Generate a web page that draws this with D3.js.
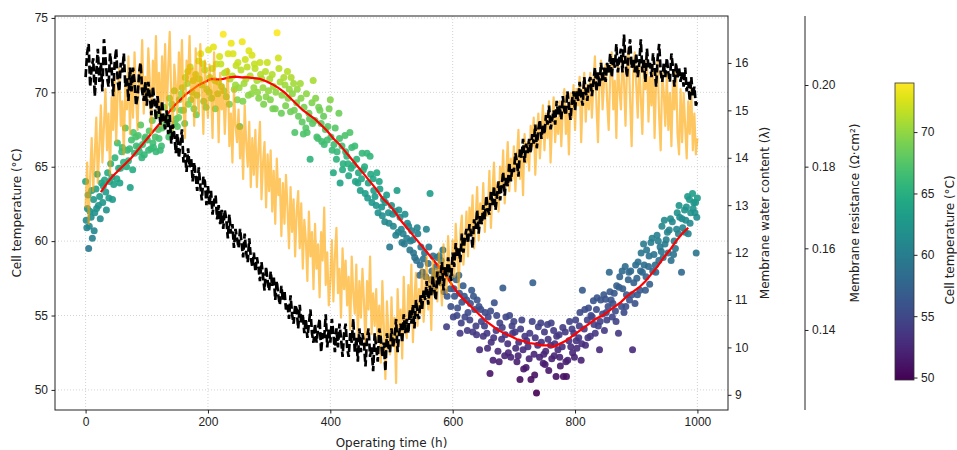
<!DOCTYPE html>
<html><head><meta charset="utf-8">
<script src="https://cdn.jsdelivr.net/npm/d3@7"></script>
<style>
body{margin:0;background:#fff;}
svg{display:block;font-family:"DejaVu Sans",sans-serif;}
.tick text{font-size:12px;fill:#222;}
.tick line{stroke:#222;}
</style></head>
<body>
<svg id="chart" width="957" height="450"></svg>
<script>
// ---- DATA ----
// Membrane water content (lambda), sampled every 2.5 h from 0 to 1000 h
const waterContent = [
15.7,16.2,16.4,15.5,15.9,16.1,15.3,15.8,16.3,15.6,
16.0,15.4,16.5,16.1,15.7,15.5,16.2,15.9,15.3,16.0,
16.3,15.6,15.4,16.0,15.8,16.2,15.5,15.7,15.2,15.9,
15.4,15.9,15.6,15.1,15.3,15.8,16.0,15.4,15.2,15.6,
15.1,15.6,15.3,14.9,15.5,15.2,14.8,15.3,15.0,14.7,
15.2,14.8,14.6,15.0,14.5,14.9,14.3,14.7,14.5,14.1,
14.5,14.0,14.3,14.6,13.9,14.1,13.7,14.2,13.8,14.0,
13.5,13.9,13.6,13.3,13.8,13.4,13.1,13.6,13.5,13.0,
13.4,13.0,13.3,12.8,13.1,13.2,12.7,13.0,12.6,12.9,
12.5,12.9,12.7,12.3,12.8,12.4,12.6,12.1,12.5,12.3,
12.1,12.5,12.2,11.9,12.4,12.0,11.8,12.3,11.9,11.7,
12.0,11.6,11.9,11.7,11.4,11.8,11.5,11.2,11.7,11.4,
11.2,11.6,11.3,11.5,11.0,11.4,11.1,10.9,11.3,11.0,
11.2,10.8,10.9,10.6,11.1,10.7,10.5,10.9,10.8,10.4,
10.9,10.5,10.7,10.3,10.6,10.2,10.5,10.8,10.3,10.1,
10.5,10.1,10.4,10.6,9.9,10.3,10.2,10.7,10.0,10.4,
10.1,10.6,10.3,9.9,10.4,10.0,10.5,10.2,9.8,10.3,
10.5,10.0,9.8,10.3,10.1,10.6,9.9,10.2,9.7,10.4,
9.9,10.3,10.1,9.6,10.2,10.4,9.8,10.0,9.5,10.3,
10.0,9.7,10.4,10.2,9.8,10.1,9.5,10.3,10.0,9.9,
10.4,10.0,10.2,10.6,9.9,10.3,10.5,10.1,10.7,10.3,
10.6,10.3,10.8,10.5,10.9,10.4,11.0,10.7,10.6,11.1,
10.8,11.2,11.0,11.4,10.9,11.3,11.1,11.5,11.2,11.0,
11.6,11.3,11.5,11.8,11.2,11.7,11.5,11.9,11.6,11.4,
12.0,11.7,12.2,11.9,12.1,11.8,12.4,12.0,12.3,12.5,
12.2,12.6,12.4,12.1,12.7,12.5,12.9,12.4,12.8,12.6,
13.0,12.7,13.2,12.9,12.8,13.3,13.0,13.4,12.9,13.2,
13.5,13.1,13.4,13.7,13.2,13.6,13.4,13.9,13.5,13.8,
13.7,14.1,13.9,13.6,14.2,14.0,14.4,13.9,14.3,14.1,
14.4,14.1,14.5,14.3,14.7,14.2,14.6,14.8,14.4,14.7,
14.5,14.9,14.7,15.1,14.6,14.8,15.0,14.7,15.2,14.9,
15.1,14.8,15.3,15.0,14.9,15.4,15.1,14.8,15.2,15.4,
15.0,15.4,15.2,15.6,15.3,15.1,15.7,15.4,15.2,15.6,
15.7,15.3,15.6,15.9,15.4,15.8,15.5,16.0,15.6,15.9,
15.6,16.0,15.8,16.2,15.7,16.1,15.9,16.4,15.8,16.1,
16.3,15.8,16.6,16.0,15.7,16.2,16.5,15.9,16.1,15.8,
16.2,15.7,16.0,16.5,15.8,16.1,15.6,16.3,15.9,16.0,
15.7,16.2,15.9,15.5,16.1,16.4,15.8,15.6,16.0,15.7,
16.1,15.8,15.6,16.2,15.9,15.5,16.0,15.7,15.9,15.6,
15.8,15.5,15.9,15.4,15.6,15.2,15.7,15.3,15.5,15.1,
15.2
];
// Membrane resistance (Ohm cm2), sampled every 2.5 h from 0 to 1000 h
const resistance = [
0.170,0.181,0.166,0.178,0.187,0.174,0.183,0.192,0.176,0.185,
0.195,0.181,0.190,0.199,0.184,0.193,0.178,0.197,0.189,0.202,
0.186,0.199,0.204,0.190,0.196,0.183,0.201,0.194,0.207,0.188,
0.203,0.192,0.208,0.197,0.189,0.205,0.199,0.211,0.193,0.202,
0.195,0.209,0.201,0.188,0.206,0.198,0.212,0.194,0.203,0.190,
0.207,0.196,0.210,0.192,0.204,0.213,0.197,0.189,0.205,0.200,
0.193,0.208,0.199,0.211,0.194,0.187,0.206,0.201,0.212,0.196,
0.204,0.190,0.209,0.198,0.193,0.210,0.200,0.188,0.206,0.197,
0.192,0.205,0.199,0.187,0.208,0.195,0.201,0.186,0.203,0.194,
0.200,0.188,0.197,0.204,0.185,0.193,0.181,0.199,0.190,0.186,
0.194,0.182,0.190,0.177,0.195,0.186,0.180,0.191,0.175,0.187,
0.178,0.189,0.175,0.184,0.191,0.172,0.181,0.186,0.170,0.183,
0.174,0.184,0.169,0.179,0.166,0.182,0.173,0.177,0.163,0.176,
0.166,0.178,0.170,0.160,0.175,0.164,0.172,0.158,0.169,0.174,
0.160,0.171,0.155,0.167,0.162,0.152,0.169,0.158,0.164,0.150,
0.166,0.155,0.161,0.148,0.164,0.157,0.170,0.151,0.159,0.146,
0.152,0.162,0.147,0.158,0.165,0.149,0.155,0.143,0.160,0.150,
0.157,0.146,0.153,0.140,0.158,0.149,0.144,0.156,0.138,0.152,
0.143,0.155,0.147,0.136,0.152,0.145,0.158,0.139,0.149,0.141,
0.150,0.137,0.146,0.132,0.152,0.141,0.128,0.147,0.139,0.134,
0.148,0.136,0.143,0.127,0.150,0.139,0.145,0.133,0.153,0.140,
0.138,0.151,0.143,0.156,0.137,0.148,0.154,0.141,0.150,0.144,
0.155,0.142,0.150,0.158,0.145,0.153,0.140,0.157,0.149,0.155,
0.147,0.159,0.152,0.146,0.161,0.154,0.149,0.163,0.155,0.151,
0.162,0.153,0.166,0.158,0.150,0.164,0.168,0.156,0.161,0.169,
0.158,0.170,0.164,0.173,0.160,0.167,0.175,0.162,0.171,0.166,
0.176,0.164,0.172,0.168,0.179,0.165,0.174,0.181,0.170,0.176,
0.169,0.180,0.175,0.184,0.171,0.178,0.186,0.174,0.182,0.177,
0.185,0.174,0.182,0.189,0.177,0.184,0.173,0.188,0.181,0.186,
0.179,0.190,0.185,0.192,0.178,0.187,0.193,0.182,0.189,0.195,
0.184,0.193,0.187,0.196,0.181,0.191,0.197,0.186,0.192,0.188,
0.196,0.185,0.194,0.199,0.188,0.195,0.183,0.198,0.192,0.200,
0.189,0.199,0.195,0.202,0.186,0.197,0.203,0.191,0.200,0.194,
0.203,0.192,0.200,0.207,0.195,0.186,0.202,0.206,0.194,0.201,
0.205,0.196,0.189,0.203,0.208,0.194,0.201,0.187,0.206,0.199,
0.194,0.207,0.201,0.190,0.205,0.209,0.196,0.185,0.203,0.208,
0.200,0.192,0.206,0.197,0.188,0.204,0.199,0.207,0.191,0.202,
0.195,0.205,0.187,0.201,0.206,0.192,0.184,0.203,0.198,0.190,
0.203,0.189,0.198,0.185,0.201,0.194,0.205,0.188,0.183,0.199,
0.186,0.198,0.190,0.182,0.196,0.188,0.199,0.184,0.193,0.183,
0.187
];
// Cell temperature readings [time h, temperature C]
const cellTempPoints = [
[0,64.0],[1,61.4],[2,60.9],[4,63.1],[5,59.5],[7,62.0],[9,61.6],[11,60.2],[13,62.8],[15,61.9],[17,63.5],[19,64.5],[21,62.4],[23,63.0],[26,63.9],[28,62.6],[31,64.1],[33,63.3],[36,64.6],[38,62.9],[41,65.2],[43,64.3],[46,63.8],[48,65.6],
[52,66.6],[54,64.9],[57,64.9],[59,66.0],[62,65.3],[65,67.6],[68,66.1],[70,65.4],[73,63.6],[75,66.8],[78,67.3],[80,65.9],[83,66.4],[86,67.1],[88,66.0],[90,67.8],[93,66.5],[96,65.8],[98,67.0],
[101,66.8],[104,67.4],[107,66.2],[109,68.1],[111,66.3],[114,67.0],[117,68.5],[120,66.9],[122,66.1],[125,67.6],[128,69.0],[131,67.9],[134,68.4],[137,69.6],[139,67.3],[142,68.9],[145,70.1],[148,68.2],[150,67.7],
[153,69.5],[156,68.8],[158,70.3],[160,68.8],[163,71.0],[166,70.6],[168,69.2],[171,71.7],[174,70.0],[177,68.9],[180,71.2],[182,69.8],[185,72.1],[188,72.6],[190,70.5],[193,69.4],[195,71.5],[198,70.2],
[201,72.85],[203,71.0],[206,69.6],[209,73.05],[211,70.8],[214,71.9],[216,69.9],[219,72.4],[222,70.4],[225,73.9],[227,71.3],[230,69.7],[233,72.6],[236,70.9],[238,73.3],[241,72.6],[243,70.2],[246,71.8],[248,69.5],
[252,67.7],[254,71.5],[256,73.4],[259,70.6],[261,72.2],[264,71.7],[266,69.8],[269,71.1],[272,72.5],[275,70.3],[277,71.6],[280,70.8],[283,69.6],[285,72.0],[288,70.9],[291,69.2],[294,71.4],[297,72.0],[299,70.1],
[302,69.5],[305,71.2],[307,70.4],[310,68.9],[313,74.0],[315,72.3],[318,70.7],[321,69.8],[324,71.0],[327,69.1],[330,71.4],[333,70.2],[335,68.7],[338,69.9],[340,70.6],[342,67.3],[345,69.3],[348,68.4],
[351,70.6],[354,68.0],[357,69.0],[360,67.6],[362,67.3],[365,68.6],[367,65.5],[370,69.3],[372,70.8],[375,68.1],[378,67.0],[381,69.0],[383,68.8],[386,66.7],[389,68.4],[392,67.5],[395,66.8],[398,68.9],[400,69.5],
[403,66.1],[405,64.6],[408,67.6],[411,66.0],[414,68.6],[416,63.9],[419,66.4],[421,65.2],[424,67.1],[427,65.7],[430,64.4],[432,67.3],[435,66.3],[438,65.1],[441,64.0],[443,65.5],[446,64.6],[449,63.4],
[452,65.9],[454,64.8],[457,63.2],[460,65.9],[462,63.9],[465,65.7],[468,62.6],[470,64.2],[473,63.0],[476,64.6],[478,61.9],[481,63.5],[484,62.3],[487,62.8],[489,61.3],[492,63.1],[495,61.9],[497,59.6],[500,62.4],
[503,61.0],[506,62.0],[509,63.4],[511,60.6],[514,61.6],[517,59.9],[519,60.5],[522,61.8],[525,60.2],[528,61.0],[530,59.4],[533,60.7],[535,60.1],[538,58.9],[541,58.7],[543,60.5],[546,57.7],[548,59.6],
[551,57.9],[554,59.2],[557,60.8],[560,58.5],[563,63.2],[565,57.4],[568,59.0],[570,56.9],[573,58.3],[576,57.8],[578,59.0],[581,58.7],[584,59.4],[586,56.6],[589,57.9],[590,54.25],[593,58.1],[596,56.8],[598,57.6],
[601,54.9],[603,56.3],[606,57.4],[608,55.5],[611,56.5],[612,53.8],[615,55.9],[617,57.0],[620,54.9],[623,56.05],[625,55.2],[628,54.7],[631,56.7],[633,53.9],[636,55.4],[638,54.3],[640,56.05],[643,55.6],[644,52.7],[647,54.6],
[650,53.6],[653,55.2],[656,53.8],[658,54.9],[661,51.1],[663,53.2],[666,52.0],[668,55.85],[671,54.0],[674,52.6],[677,54.5],[680,53.4],[682,56.85],[685,52.3],[687,54.9],[690,53.1],[693,55.0],[695,52.2],[698,53.8],
[700,54.6],[703,52.8],[705,51.9],[708,53.2],[710,50.7],[713,54.7],[715,52.7],[718,53.6],[720,51.5],[723,52.9],[726,53.8],[728,50.7],[731,57.2],[733,52.4],[735,53.5],[737,49.8],[740,54.25],[742,52.2],[745,53.2],[748,51.8],
[750,53.9],[752,52.6],[755,54.4],[757,51.3],[760,53.0],[762,52.1],[765,54.0],[767,53.1],[769,50.9],[772,52.7],[774,53.7],[776,51.6],[779,52.9],[781,50.9],[784,53.9],[786,50.9],[788,52.0],[791,54.6],[793,52.9],[796,52.5],[798,53.8],
[801,54.7],[803,52.8],[806,53.5],[808,55.2],[810,52.0],[812,56.7],[815,54.1],[817,53.0],[820,54.7],[822,55.5],[825,53.6],[828,54.9],[830,56.0],[833,53.8],[835,55.4],[838,54.3],[840,52.7],[842,56.05],[845,55.1],[848,54.0],
[850,56.1],[852,54.7],[854,55.6],[856,57.9],[859,56.05],[861,54.9],[864,56.5],[866,55.3],[868,57.0],[871,53.8],[873,57.6],[876,55.6],[878,56.8],[880,55.2],[882,58.3],[884,56.4],[887,57.4],[889,56.05],[891,58.0],[894,52.7],[896,57.2],[898,55.8],
[901,57.5],[903,58.6],[906,56.7],[908,59.2],[910,57.9],[913,58.4],[915,56.7],[917,59.4],[920,58.3],[922,57.1],[924,59.9],[927,58.0],[929,59.1],[932,57.9],[934,60.4],[937,58.7],[939,59.6],[942,61.0],[944,58.9],[947,59.8],
[949,60.1],[952,59.2],[954,60.75],[957,58.7],[959,61.3],[962,60.0],[964,59.5],[967,61.9],[969,60.5],[971,61.6],[974,57.9],[976,60.9],[979,62.1],[981,61.4],[982,62.3],[985,60.5],[987,62.8],[989,61.9],[992,63.2],[994,62.6],[996,61.9],[998,59.2],[1000,62.9],
[3,62.2],[6,61.0],[10,63.4],[14,60.7],[18,62.2],[24,61.5],[29,63.7],[34,62.1],[39,64.0],[44,62.8],
[51,64.2],[56,63.9],[60,66.3],[67,65.0],[72,66.2],[77,64.8],[82,67.0],[87,66.3],[92,65.6],[97,66.9],
[103,66.1],[110,66.6],[115,66.0],[119,67.5],[124,66.4],[130,68.3],[136,67.0],[141,69.2],[146,67.9],
[152,68.3],[157,69.9],[162,67.9],[167,71.4],[172,69.5],[176,70.8],[181,68.5],[186,70.9],[192,71.9],[197,69.0],
[202,70.0],[207,71.6],[212,68.9],[217,70.7],[221,71.9],[226,70.1],[231,71.4],[235,69.2],[240,71.1],[245,70.5],[249,72.0],
[251,70.3],[257,69.4],[262,70.9],[267,72.8],[271,69.9],[276,71.9],[281,70.0],[286,71.2],[290,70.3],[295,69.7],
[301,70.9],[306,68.9],[311,70.0],[316,71.6],[320,68.6],[326,70.5],[331,69.6],[336,71.0],[341,68.8],[346,70.2],
[352,69.6],[356,67.2],[361,69.9],[366,68.2],[371,67.9],[376,69.6],[380,66.9],[385,67.9],[390,66.5],[396,67.7],
[401,67.0],[406,66.5],[410,65.5],[415,66.9],[420,64.8],[425,66.0],[429,65.2],[434,64.9],[440,66.4],[445,63.9],
[451,64.2],[456,65.0],[461,62.9],[466,64.5],[471,63.4],[475,62.4],[480,64.0],[485,61.7],[490,62.6],[496,61.2],
[502,61.8],[507,60.4],[512,62.1],[516,60.8],[521,59.8],[526,61.2],[531,60.0],[536,59.2],[542,60.9],[547,58.4],
[552,58.8],[556,57.6],[561,59.6],[566,58.0],[571,57.7],[575,58.9],[580,57.2],[585,58.0],[591,56.3],[597,55.6],
[602,56.8],[607,55.0],[610,57.7],[614,54.5],[619,56.3],[624,54.0],[629,55.8],[634,56.3],[639,53.7],[646,55.4],
[652,54.3],[657,52.8],[662,55.3],[667,53.5],[672,55.0],[676,51.9],[681,54.2],[686,53.7],[691,52.5],[697,54.3],
[702,53.9],[707,52.3],[711,54.1],[716,51.4],[721,53.3],[725,52.1],[730,54.6],[734,51.0],[739,53.0],[744,54.5],[749,52.4],
[751,51.7],[756,53.4],[761,54.5],[766,52.3],[770,53.6],[775,52.2],[780,54.2],[785,51.9],[790,53.3],[795,54.1],[799,52.2],
[802,53.3],[807,54.3],[811,53.1],[816,55.4],[821,53.5],[826,55.0],[831,54.4],[836,56.2],[841,54.6],[847,56.4],
[851,55.2],[857,56.6],[862,55.8],[867,54.6],[872,56.9],[877,58.0],[883,55.6],[888,57.9],[893,56.4],[899,58.4],
[902,56.4],[907,58.0],[912,59.8],[916,57.6],[921,59.0],[926,60.2],[931,58.4],[936,60.0],[941,59.3],[946,61.4],
[951,60.6],[956,61.5],[961,59.1],[966,60.8],[970,62.4],[975,61.5],[980,60.6],[984,63.0],[988,61.2],[993,62.2],[997,62.6],[999,61.6]
];
// Rolling mean of cell temperature, every 10 h from 25 to 985 h
const rollingMeanTemp = [
63.3,63.9,64.4,64.8,65.2,65.6,66.1,66.6,67.1,67.6,68.1,68.6,69.1,69.5,69.9,70.2,70.5,70.7,70.9,70.85,
70.9,71.0,71.05,71.0,71.0,70.95,70.9,70.75,70.55,70.3,70.0,69.6,69.2,68.8,68.5,68.2,67.8,67.4,66.9,66.5,
66.0,65.5,65.0,64.5,64.0,63.5,62.9,62.5,62.0,61.4,60.9,60.4,59.9,59.4,58.9,58.4,57.9,57.3,56.7,56.2,
55.8,55.4,55.0,54.6,54.3,54.0,53.8,53.6,53.4,53.3,53.15,53.1,53.0,53.0,52.9,53.1,53.3,53.6,53.9,54.2,
54.5,54.8,55.0,55.3,55.6,55.9,56.3,56.6,56.9,57.3,57.8,58.3,58.9,59.4,60.0,60.5,60.9
];
const xTicks = [0,200,400,600,800,1000];
const tempTicks = [50,55,60,65,70,75];
const lambdaTicks = [9,10,11,12,13,14,15,16];
const resTicks = [0.14,0.16,0.18,0.20];
const cbarTicks = [50,55,60,65,70];

// ---- LAYOUT ----
const L=55,R=728,T=16,B=410;
const svg=d3.select("#chart");
const x=d3.scaleLinear().domain([-50,1050]).range([L,R]);
const yT=d3.scaleLinear().domain([48.65,75.13]).range([B,T]);
const yL=d3.scaleLinear().domain([8.68,16.99]).range([B,T]);
const yR=d3.scaleLinear().domain([0.1204,0.2169]).range([B,T]);
const tExt=d3.extent(cellTempPoints,d=>d[1]);
const color=d3.scaleSequential(d3.interpolateViridis).domain(tExt);

const defs=svg.append("defs");
defs.append("clipPath").attr("id","clip")
  .append("rect").attr("x",L).attr("y",T).attr("width",R-L).attr("height",B-T);

// grid
const grid=svg.append("g").attr("stroke","#c8c8c8").attr("stroke-width",0.8).attr("stroke-dasharray","1,2");
grid.selectAll(".gx").data(xTicks).enter().append("line")
  .attr("x1",d=>x(d)).attr("x2",d=>x(d)).attr("y1",T).attr("y2",B);
grid.selectAll(".gy").data(tempTicks).enter().append("line")
  .attr("x1",L).attr("x2",R).attr("y1",d=>yT(d)).attr("y2",d=>yT(d));

const plot=svg.append("g").attr("clip-path","url(#clip)");
// scatter
plot.selectAll("circle").data(cellTempPoints.slice().sort((a,b)=>a[0]-b[0])).enter().append("circle")
  .attr("cx",d=>x(d[0])).attr("cy",d=>yT(d[1])).attr("r",3.5)
  .attr("fill",d=>color(d[1])).attr("fill-opacity",0.9);
// rolling mean
const rmTimes=d3.range(25,986,10);
plot.append("path").datum(rollingMeanTemp)
  .attr("fill","none").attr("stroke","#ff0000").attr("stroke-width",2.2)
  .attr("d",d3.line().x((d,i)=>x(rmTimes[i])).y(d=>yT(d)));
const lineTimes=d3.range(0,1000.1,2.5);
// resistance (orange)
plot.append("path").datum(resistance)
  .attr("fill","none").attr("stroke","orange").attr("stroke-opacity",0.62).attr("stroke-width",2.2)
  .attr("stroke-linejoin","round")
  .attr("d",d3.line().x((d,i)=>x(lineTimes[i])).y(d=>yR(d)));
// water content (black dashed)
plot.append("path").datum(waterContent)
  .attr("fill","none").attr("stroke","#000").attr("stroke-width",2.7)
  .attr("stroke-dasharray","8,3")
  .attr("d",d3.line().x((d,i)=>x(lineTimes[i])).y(d=>yL(d)));

// frame
svg.append("rect").attr("x",L).attr("y",T).attr("width",R-L).attr("height",B-T)
  .attr("fill","none").attr("stroke","#222").attr("stroke-width",1);

// axes
const ax=svg.append("g").attr("transform",`translate(0,${B})`)
  .call(d3.axisBottom(x).tickValues(xTicks).tickFormat(d3.format("d")).tickSize(3.5).tickPadding(3.5).tickSizeOuter(0));
ax.select(".domain").remove();
const ay=svg.append("g").attr("transform",`translate(${L},0)`)
  .call(d3.axisLeft(yT).tickValues(tempTicks).tickFormat(d3.format("d")).tickSize(3.5).tickPadding(3.5).tickSizeOuter(0));
ay.select(".domain").remove();
const ayl=svg.append("g").attr("transform",`translate(${R},0)`)
  .call(d3.axisRight(yL).tickValues(lambdaTicks).tickFormat(d3.format("d")).tickSize(3.5).tickPadding(3.5).tickSizeOuter(0));
ayl.select(".domain").remove();
const rX=805;
const ayr=svg.append("g").attr("transform",`translate(${rX},0)`)
  .call(d3.axisRight(yR).tickValues(resTicks).tickFormat(d3.format(".2f")).tickSize(3.5).tickPadding(3.5).tickSizeOuter(0));
ayr.select(".domain").remove();
svg.append("line").attr("x1",rX).attr("x2",rX).attr("y1",T).attr("y2",B).attr("stroke","#222").attr("stroke-width",1);

// axis labels
const lab=(tx,ty,rot,txt)=>svg.append("text").attr("transform",`translate(${tx},${ty}) rotate(${rot})`)
  .attr("text-anchor","middle").attr("font-size",12).attr("fill","#222").text(txt);
lab(391.5,447,0,"Operating time (h)");
lab(21,213,-90,"Cell temperature (°C)");
lab(769,213,-90,"Membrane water content (λ)");
lab(859,213,-90,"Membrane resistance (Ω·cm²)");

// colorbar
const cbX=895,cbW=19,cbT=83,cbB=380;
const cy=d3.scaleLinear().domain(tExt).range([cbB,cbT]);
const grad=defs.append("linearGradient").attr("id","vir")
  .attr("x1",0).attr("y1",1).attr("x2",0).attr("y2",0);
d3.range(0,1.0001,0.05).forEach(s=>grad.append("stop").attr("offset",s).attr("stop-color",d3.interpolateViridis(s)));
svg.append("rect").attr("x",cbX).attr("y",cbT).attr("width",cbW).attr("height",cbB-cbT)
  .attr("fill","url(#vir)").attr("stroke","#333").attr("stroke-width",0.8);
const acb=svg.append("g").attr("transform",`translate(${cbX+cbW},0)`)
  .call(d3.axisRight(cy).tickValues(cbarTicks).tickSize(3.5).tickPadding(3.5).tickSizeOuter(0));
acb.select(".domain").remove();
lab(954,240,-90,"Cell temperature (°C)");
</script>
</body></html>
